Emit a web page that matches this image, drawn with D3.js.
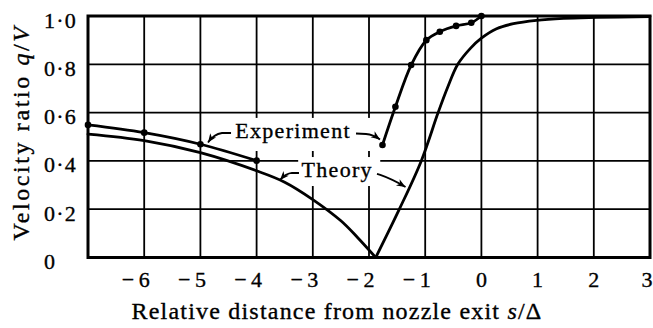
<!DOCTYPE html>
<html>
<head>
<meta charset="utf-8">
<script src="https://cdn.jsdelivr.net/npm/d3@7/dist/d3.min.js"></script>
<style>
  html, body { margin: 0; padding: 0; background: #fff; }
  svg { display: block; }
  text { stroke: #000; stroke-width: 0.35px; }
</style>
</head>
<body>
<svg id="chart" width="653" height="328"></svg>
<script>
// Velocity ratio q/V against relative distance from the nozzle exit s/Δ

// Theory: falls to zero just upstream of the exit, then recovers to 1
const theoryX = [-7, -6, -5, -4, -3.5, -3, -2.5, -2.2, -1.88,
                 -1.46, -1.07, -0.77, -0.6, -0.42, -0.2, 0, 0.27, 0.57, 0.98, 1.46, 2.05, 3];
const theoryY = [0.511, 0.484, 0.434, 0.359, 0.312, 0.24, 0.152, 0.082, 0,
                 0.2, 0.4, 0.6, 0.705, 0.8, 0.865, 0.908, 0.947, 0.968, 0.982, 0.99, 0.994, 0.998];
const theoryMinIndex = 8;

// Experiment: upstream run and the run close to the exit
const expUpX = [-7, -6, -5, -4];
const expUpY = [0.549, 0.517, 0.469, 0.401];
const expExitX = [-1.76, -1.53, -1.25, -0.98, -0.74, -0.45, -0.18, 0];
const expExitY = [0.466, 0.624, 0.797, 0.90, 0.935, 0.959, 0.972, 1.0];

// Axes
const xDomain = [-7, 3];
const yDomain = [0, 1];
const xTicks = [-6, -5, -4, -3, -2, -1, 0, 1, 2, 3];
const xTickDigits = ["6", "5", "4", "3", "2", "1", "0", "1", "2", "3"];
const yTicks = [0, 0.2, 0.4, 0.6, 0.8, 1.0];
const yTickLabels = ["0", "0·2", "0·4", "0·6", "0·8", "1·0"];

const FONT = "'Liberation Serif', 'Times New Roman', serif";
const svg = d3.select("#chart").attr("font-family", FONT);
const W = 653, H = 328;
const plot = { left: 88, right: 650, top: 16, bottom: 257.5 };

const x = d3.scaleLinear().domain(xDomain).range([plot.left, plot.right]);
const y = d3.scaleLinear().domain(yDomain).range([plot.bottom, plot.top]);

svg.append("rect").attr("width", W).attr("height", H).attr("fill", "#fff");

// Grid
const grid = svg.append("g").attr("stroke", "#000").attr("stroke-width", 1.8);
grid.selectAll("line.v").data(xTicks.filter(t => t > xDomain[0] && t < xDomain[1]))
  .join("line").attr("class", "v")
  .attr("x1", d => x(d)).attr("x2", d => x(d))
  .attr("y1", y(yDomain[0])).attr("y2", y(yDomain[1]));
grid.selectAll("line.h").data(yTicks.filter(t => t > yDomain[0] && t < yDomain[1]))
  .join("line").attr("class", "h")
  .attr("y1", d => y(d)).attr("y2", d => y(d))
  .attr("x1", x(xDomain[0])).attr("x2", x(xDomain[1]));

// Label backgrounds (the grid is broken behind the captions)
const captionBoxes = [
  { x0: -4.47, x1: -1.84, y0: 0.441, y1: 0.578 },
  { x0: -3.26, x1: -1.80, y0: 0.296, y1: 0.416 }
];
svg.append("g").selectAll("rect").data(captionBoxes).join("rect")
  .attr("x", d => x(d.x0)).attr("width", d => x(d.x1) - x(d.x0))
  .attr("y", d => y(d.y1)).attr("height", d => y(d.y0) - y(d.y1))
  .attr("fill", "#fff");

// Curves
const lineGen = d3.line().x(d => x(d[0])).y(d => y(d[1])).curve(d3.curveCatmullRom.alpha(0.5));
const theoryPts = d3.zip(theoryX, theoryY);
const curves = svg.append("g").attr("fill", "none").attr("stroke", "#000")
  .attr("stroke-width", 2.8).attr("stroke-linejoin", "round").attr("stroke-linecap", "round");
curves.append("path").attr("d", lineGen(theoryPts.slice(0, theoryMinIndex + 1)));
curves.append("path").attr("d", lineGen(theoryPts.slice(theoryMinIndex)));
const expUp = d3.zip(expUpX, expUpY);
const expExit = d3.zip(expExitX, expExitY);
curves.append("path").attr("d", lineGen(expUp));
curves.append("path").attr("d", lineGen(expExit));

// Measured points
svg.append("g").selectAll("circle").data(expUp.concat(expExit)).join("circle")
  .attr("cx", d => x(d[0])).attr("cy", d => y(d[1])).attr("r", 3.3).attr("fill", "#000");

// Frame
svg.append("rect")
  .attr("x", plot.left).attr("y", plot.top)
  .attr("width", plot.right - plot.left).attr("height", plot.bottom - plot.top)
  .attr("fill", "none").attr("stroke", "#000").attr("stroke-width", 3);

// Captions
const captions = [
  { text: "Experiment", x: -4.38, y: 0.494 },
  { text: "Theory", x: -3.20, y: 0.335 }
];
svg.append("g").selectAll("text").data(captions).join("text")
  .attr("x", d => x(d.x)).attr("y", d => y(d.y))
  .attr("font-size", 22).attr("letter-spacing", 1.3)
  .text(d => d.text);

// Leader arrows: start, corner, control, tip
const arrows = [
  [[-4.455, 0.5155], [-4.616, 0.5155], [-4.758, 0.511], [-4.865, 0.476]],
  [[-2.231, 0.5135], [-2.053, 0.5114], [-1.929, 0.509], [-1.804, 0.489]],
  [[-3.246, 0.350], [-3.370, 0.350], [-3.477, 0.348], [-3.584, 0.321]],
  [[-1.858, 0.346], [-1.80, 0.342], [-1.59, 0.325], [-1.35, 0.292]]
];
const ag = svg.append("g");
arrows.forEach(a => {
  const p = a.map(d => [x(d[0]), y(d[1])]);
  ag.append("path")
    .attr("d", `M${p[0]}L${p[1]}Q${p[2]} ${p[3]}`)
    .attr("fill", "none").attr("stroke", "#000").attr("stroke-width", 1.8);
  const dx = p[3][0] - p[2][0], dy = p[3][1] - p[2][1];
  const len = Math.hypot(dx, dy), ux = dx / len, uy = dy / len;
  const L = 9, Wd = 3.6;
  const bx = p[3][0] - ux * L, by = p[3][1] - uy * L;
  ag.append("path")
    .attr("d", `M${p[3]}L${bx - uy * Wd},${by + ux * Wd}L${bx + ux * 2.5},${by + uy * 2.5}L${bx + uy * Wd},${by - ux * Wd}Z`)
    .attr("fill", "#000");
});

// Y tick labels
svg.append("g").selectAll("text").data(yTicks).join("text")
  .attr("x", 44).attr("y", d => y(d) + 11.5)
  .attr("font-size", 22).attr("letter-spacing", 1.2)
  .text((d, i) => yTickLabels[i]);

// X tick labels: digit centred on the grid line, minus sign set apart
const xl = svg.append("g");
xl.selectAll("text.d").data(xTicks).join("text").attr("class", "d")
  .attr("x", d => Math.min(x(d), W - 6)).attr("y", 287)
  .attr("font-size", 22).attr("text-anchor", "middle")
  .text((d, i) => xTickDigits[i]);
xl.selectAll("text.m").data(xTicks.filter(d => d < 0)).join("text").attr("class", "m")
  .attr("x", d => x(d) - 10).attr("y", 287)
  .attr("font-size", 22).attr("text-anchor", "end")
  .text("−");

// Axis titles
const xt = svg.append("text").attr("x", 337).attr("y", 319)
  .attr("font-size", 24).attr("letter-spacing", 1.2).attr("text-anchor", "middle");
xt.append("tspan").text("Relative distance from nozzle exit ");
xt.append("tspan").attr("font-style", "italic").text("s");
xt.append("tspan").text("/Δ");

const yt = svg.append("text").attr("transform", "translate(28.5,132.5) rotate(-90)")
  .attr("font-size", 24).attr("letter-spacing", 2.6).attr("text-anchor", "middle");
yt.append("tspan").text("Velocity ratio ");
yt.append("tspan").attr("font-style", "italic").text("q");
yt.append("tspan").text("/");
yt.append("tspan").attr("font-style", "italic").text("V");
</script>
</body>
</html>
